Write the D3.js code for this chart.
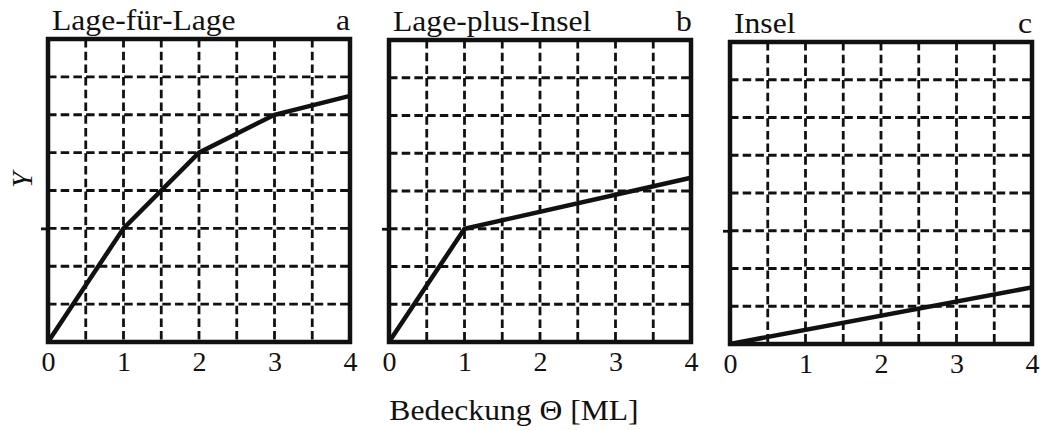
<!DOCTYPE html>
<html>
<head>
<meta charset="utf-8">
<script src="https://cdn.jsdelivr.net/npm/d3@7"></script>
<style>
  body { margin: 0; background: #fff; }
</style>
</head>
<body>
<svg id="chart" width="1042" height="430"></svg>
<script>
// data (x = coverage in ML, y = grid units 0..8)
const panelTitles = ['Lage-für-Lage', 'Lage-plus-Insel', 'Insel'];
const panelLetters = ['a', 'b', 'c'];
const coverage = [[0, 1, 2, 3, 4], [0, 1, 4], [0, 4]];
const yieldValues = [[0, 3, 5, 6, 6.5], [0, 3, 4.35], [0, 1.5]];
const xTickLabels = ['0', '1', '2', '3', '4'];
const xGrid = [0.5, 1, 1.5, 2, 2.5, 3, 3.5];
const yGrid = [1, 2, 3, 4, 5, 6, 7];
const yMarkTick = [3];

const FONT = '"Liberation Serif", "Times New Roman", serif';
const INK = '#111';
const STRETCH = 1.09; // the scanned lettering is a bit wider than Times

const svg = d3.select('#chart');

// panel frames in pixels
const layout = [
  { left: 48, top: 39, width: 302, height: 303 },
  { left: 389, top: 40, width: 302, height: 302 },
  { left: 730, top: 42, width: 302, height: 302 }
];

function addText(sel, x, y) {
  return sel.append('text')
    .attr('transform', `translate(${x},${y}) scale(${STRETCH},1)`)
    .attr('fill', INK)
    .style('font-family', FONT)
    .style('font-size', '29px');
}

panelTitles.forEach((title, i) => {
  const box = layout[i];
  const x = d3.scaleLinear().domain([0, 4]).range([0, box.width]);
  const y = d3.scaleLinear().domain([0, 8]).range([box.height, 0]);

  const g = svg.append('g').attr('transform', `translate(${box.left},${box.top})`);

  // dashed grid
  g.append('g')
    .selectAll('line')
    .data(xGrid)
    .enter().append('line')
    .attr('x1', d => x(d)).attr('x2', d => x(d))
    .attr('y1', 0).attr('y2', box.height)
    .attr('stroke', INK)
    .attr('stroke-width', 2.8)
    .attr('stroke-dasharray', '8.5,4.2');

  g.append('g')
    .selectAll('line')
    .data(yGrid)
    .enter().append('line')
    .attr('x1', 0).attr('x2', box.width)
    .attr('y1', d => y(d)).attr('y2', d => y(d))
    .attr('stroke', INK)
    .attr('stroke-width', 2.8)
    .attr('stroke-dasharray', '8.5,4.2');

  // small tick on the left edge
  g.append('g')
    .call(d3.axisLeft(y).tickValues(yMarkTick).tickSize(7).tickFormat(''))
    .call(a => a.select('.domain').remove())
    .call(a => a.selectAll('line').attr('stroke', INK).attr('stroke-width', 2.8));

  // x tick labels
  g.append('g')
    .attr('transform', `translate(0,${box.height})`)
    .call(d3.axisBottom(x).tickValues([0, 1, 2, 3, 4]).tickSize(0).tickPadding(0)
      .tickFormat((d, k) => xTickLabels[k]))
    .call(a => a.select('.domain').remove())
    .call(a => a.selectAll('text')
      .attr('y', 29)
      .attr('dy', 0)
      .attr('fill', INK)
      .style('font-family', FONT)
      .style('font-size', '28px'));

  // curve
  const pts = coverage[i].map((c, k) => [c, yieldValues[i][k]]);
  g.append('path')
    .datum(pts)
    .attr('fill', 'none')
    .attr('stroke', INK)
    .attr('stroke-width', 4.5)
    .attr('stroke-linejoin', 'miter')
    .attr('d', d3.line().x(d => x(d[0])).y(d => y(d[1])));

  // frame
  g.append('rect')
    .attr('x', 0).attr('y', 0)
    .attr('width', box.width).attr('height', box.height)
    .attr('fill', 'none')
    .attr('stroke', INK)
    .attr('stroke-width', 4.5);

  // titles
  addText(g, 4, -9).text(title);

  addText(g, box.width - 7, -9)
    .attr('text-anchor', 'middle')
    .text(panelLetters[i]);
});

// axis labels
addText(svg, 514, 420)
  .attr('text-anchor', 'middle')
  .text('Bedeckung Θ [ML]');

svg.append('text')
  .attr('transform', 'translate(32,180) rotate(-90)')
  .attr('text-anchor', 'middle')
  .attr('fill', INK)
  .style('font-family', FONT)
  .style('font-size', '29px')
  .style('font-style', 'italic')
  .text('Y');
</script>
</body>
</html>
